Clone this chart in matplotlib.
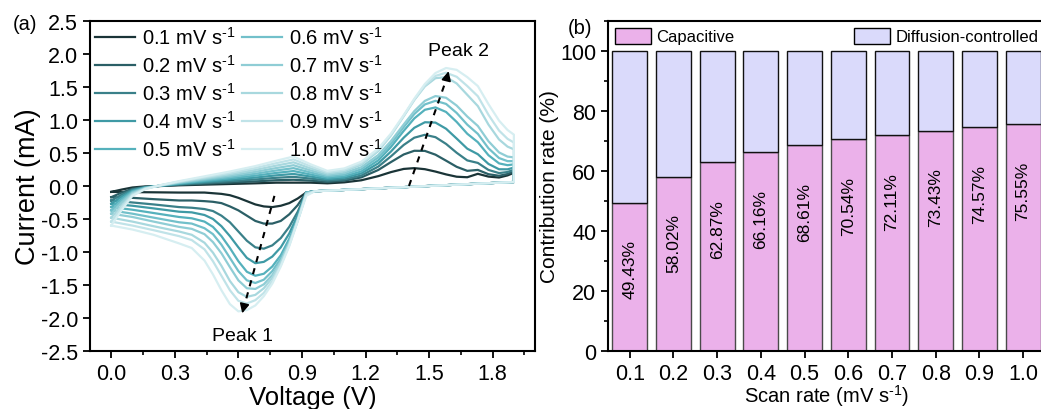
import matplotlib.pyplot as plt
from matplotlib.patches import Patch
from matplotlib.ticker import MultipleLocator, FormatStrFormatter

plt.rcParams['font.family'] = ['Liberation Sans', 'DejaVu Sans']
plt.rcParams['mathtext.fontset'] = 'custom'
plt.rcParams['mathtext.rm'] = 'Liberation Sans'
plt.rcParams['mathtext.it'] = 'Liberation Sans:italic'
plt.rcParams['mathtext.bf'] = 'Liberation Sans:bold'

# ---- (a) CV curves at different scan rates ----
scan_rates = ['0.1', '0.2', '0.3', '0.4', '0.5', '0.6', '0.7', '0.8', '0.9', '1.0']
cv_colors = ['#1a3437', '#2b5f66', '#3a8089', '#3f9aa5', '#55b1bc',
             '#72c0ca', '#8fcdd5', '#a8d8de', '#c0e3e8', '#d6eef1']

# anodic sweep, 0 -> 1.9 V
anodic_v = [0.00, 0.05, 0.10, 0.16, 0.24, 0.32, 0.44, 0.56, 0.68, 0.78, 0.86, 0.94, 1.02,
            1.10, 1.18, 1.26, 1.32, 1.38, 1.43, 1.48, 1.53, 1.58, 1.63, 1.68, 1.73, 1.78,
            1.83, 1.87, 1.90]
anodic_i = [
    [-0.09, -0.054, -0.023, -0.007, 0.0, 0.01, 0.02, 0.03, 0.04, 0.05, 0.05, 0.05, 0.04,
     0.055, 0.086, 0.149, 0.21, 0.258, 0.27, 0.254, 0.218, 0.175, 0.14, 0.132, 0.184, 0.142,
     0.128, 0.16, 0.20],
    [-0.17, -0.10, -0.043, -0.014, 0.002, 0.017, 0.034, 0.051, 0.069, 0.087, 0.094, 0.081, 0.061,
     0.08, 0.13, 0.242, 0.362, 0.477, 0.533, 0.531, 0.474, 0.383, 0.29, 0.229, 0.243, 0.178,
     0.154, 0.181, 0.22],
    [-0.22, -0.13, -0.055, -0.018, 0.004, 0.024, 0.048, 0.072, 0.098, 0.124, 0.138, 0.112, 0.082,
     0.10, 0.158, 0.293, 0.449, 0.621, 0.731, 0.775, 0.739, 0.637, 0.503, 0.387, 0.349, 0.243,
     0.195, 0.211, 0.246],
    [-0.27, -0.16, -0.068, -0.022, 0.006, 0.031, 0.062, 0.093, 0.127, 0.161, 0.182, 0.143, 0.103,
     0.123, 0.19, 0.342, 0.522, 0.731, 0.881, 0.965, 0.96, 0.867, 0.718, 0.565, 0.481, 0.334,
     0.253, 0.252, 0.278],
    [-0.32, -0.19, -0.08, -0.026, 0.008, 0.038, 0.076, 0.114, 0.156, 0.198, 0.226, 0.174, 0.124,
     0.146, 0.22, 0.388, 0.591, 0.834, 1.023, 1.154, 1.19, 1.121, 0.97, 0.791, 0.663, 0.466,
     0.342, 0.315, 0.327],
    [-0.37, -0.22, -0.093, -0.03, 0.01, 0.045, 0.09, 0.135, 0.185, 0.235, 0.27, 0.205, 0.145,
     0.171, 0.253, 0.432, 0.64, 0.891, 1.09, 1.235, 1.29, 1.243, 1.106, 0.929, 0.789, 0.571,
     0.423, 0.376, 0.376],
    [-0.42, -0.25, -0.105, -0.034, 0.012, 0.052, 0.104, 0.156, 0.214, 0.272, 0.314, 0.236, 0.166,
     0.196, 0.284, 0.469, 0.68, 0.931, 1.134, 1.289, 1.362, 1.336, 1.218, 1.052, 0.909, 0.678,
     0.508, 0.445, 0.433],
    [-0.48, -0.29, -0.12, -0.038, 0.014, 0.059, 0.118, 0.177, 0.243, 0.309, 0.358, 0.267, 0.187,
     0.222, 0.322, 0.528, 0.766, 1.057, 1.303, 1.509, 1.633, 1.648, 1.553, 1.381, 1.21, 0.93,
     0.704, 0.596, 0.555],
    [-0.54, -0.32, -0.135, -0.043, 0.016, 0.066, 0.132, 0.198, 0.272, 0.346, 0.402, 0.298, 0.208,
     0.243, 0.344, 0.546, 0.776, 1.06, 1.306, 1.522, 1.667, 1.715, 1.654, 1.514, 1.359, 1.079,
     0.839, 0.714, 0.658],
    [-0.60, -0.36, -0.15, -0.048, 0.018, 0.073, 0.146, 0.219, 0.301, 0.383, 0.446, 0.329, 0.229,
     0.266, 0.368, 0.567, 0.794, 1.073, 1.321, 1.545, 1.711, 1.787, 1.759, 1.649, 1.513, 1.24,
     0.99, 0.848, 0.777],
]

# cathodic sweep, 1.9 -> 0 V
cathodic_v = [1.90, 1.70, 1.50, 1.30, 1.10, 0.96, 0.92, 0.88, 0.84, 0.80, 0.76, 0.72, 0.68,
              0.64, 0.60, 0.56, 0.52, 0.48, 0.44, 0.38, 0.32, 0.20, 0.10, 0.00]
cathodic_i = [
    [0.06, 0.03, 0.00, -0.03, -0.06, -0.08, -0.10, -0.19, -0.26, -0.30, -0.32, -0.31, -0.28,
     -0.23, -0.18, -0.14, -0.12, -0.11, -0.10, -0.10, -0.10, -0.096, -0.093, -0.09],
    [0.06, 0.03, 0.00, -0.03, -0.06, -0.08, -0.10, -0.29, -0.43, -0.53, -0.57, -0.57, -0.53,
     -0.45, -0.37, -0.31, -0.26, -0.24, -0.23, -0.22, -0.22, -0.20, -0.18, -0.17],
    [0.06, 0.03, 0.00, -0.03, -0.06, -0.08, -0.10, -0.39, -0.62, -0.79, -0.90, -0.95, -0.93,
     -0.83, -0.69, -0.55, -0.45, -0.38, -0.35, -0.33, -0.32, -0.28, -0.25, -0.22],
    [0.06, 0.03, 0.00, -0.03, -0.06, -0.08, -0.10, -0.44, -0.72, -0.93, -1.07, -1.15, -1.17,
     -1.09, -0.93, -0.76, -0.61, -0.50, -0.44, -0.40, -0.39, -0.34, -0.30, -0.27],
    [0.06, 0.03, 0.00, -0.03, -0.06, -0.08, -0.10, -0.49, -0.80, -1.05, -1.22, -1.33, -1.36,
     -1.30, -1.14, -0.94, -0.76, -0.62, -0.54, -0.49, -0.47, -0.41, -0.36, -0.32],
    [0.06, 0.03, 0.00, -0.03, -0.06, -0.08, -0.10, -0.50, -0.84, -1.10, -1.29, -1.42, -1.47,
     -1.43, -1.29, -1.09, -0.89, -0.73, -0.64, -0.57, -0.55, -0.48, -0.42, -0.37],
    [0.06, 0.03, 0.00, -0.03, -0.06, -0.08, -0.11, -0.52, -0.87, -1.14, -1.35, -1.49, -1.56,
     -1.55, -1.43, -1.23, -1.02, -0.85, -0.73, -0.65, -0.62, -0.54, -0.47, -0.42],
    [0.06, 0.03, 0.00, -0.03, -0.06, -0.08, -0.12, -0.52, -0.87, -1.16, -1.39, -1.55, -1.65,
     -1.68, -1.61, -1.44, -1.21, -1.01, -0.86, -0.74, -0.69, -0.61, -0.54, -0.48],
    [0.06, 0.03, 0.00, -0.03, -0.06, -0.08, -0.13, -0.53, -0.90, -1.20, -1.44, -1.62, -1.73,
     -1.78, -1.74, -1.58, -1.36, -1.14, -0.96, -0.82, -0.76, -0.67, -0.60, -0.54],
    [0.06, 0.03, 0.00, -0.03, -0.06, -0.08, -0.15, -0.53, -0.91, -1.22, -1.48, -1.67, -1.81,
     -1.88, -1.90, -1.79, -1.58, -1.34, -1.13, -0.94, -0.87, -0.74, -0.66, -0.60],
]

# ---- (b) capacitive / diffusion contributions ----
rate_values = [0.1, 0.2, 0.3, 0.4, 0.5, 0.6, 0.7, 0.8, 0.9, 1.0]
capacitive = [49.43, 58.02, 62.87, 66.16, 68.61, 70.54, 72.11, 73.43, 74.57, 75.55]
diffusion = [100 - c for c in capacitive]

fig = plt.figure(figsize=(10.41, 4.10), dpi=100)

ax1 = fig.add_axes([0.0865, 0.1415, 0.4275, 0.805])
for i, rate in enumerate(scan_rates):
    ax1.plot(anodic_v + cathodic_v, anodic_i[i] + cathodic_i[i], color=cv_colors[i],
             lw=1.6, label=rate + r' mV s$^{\text{-}1}$')

ax1.set_xlim(-0.1, 2.0)
ax1.set_ylim(-2.5, 2.5)
ax1.xaxis.set_major_locator(MultipleLocator(0.3))
ax1.xaxis.set_minor_locator(MultipleLocator(0.15))
ax1.xaxis.set_major_formatter(FormatStrFormatter('%.1f'))
ax1.yaxis.set_major_locator(MultipleLocator(0.5))
ax1.yaxis.set_major_formatter(FormatStrFormatter('%.1f'))
ax1.tick_params(which='major', direction='out', length=5, width=1.3, labelsize=15.5)
ax1.tick_params(which='minor', direction='out', length=3, width=1.2)
for s in ax1.spines.values():
    s.set_linewidth(1.5)
ax1.set_xlabel('Voltage (V)', fontsize=18.5, labelpad=1)
ax1.set_ylabel('Current (mA)', fontsize=19.5, labelpad=0)

ax1.legend(loc='upper left', ncol=2, fontsize=14.5, frameon=False, handlelength=2.0,
           handletextpad=0.35, columnspacing=0.3, labelspacing=0.3, borderpad=0.15,
           borderaxespad=0.1)

# peak shift arrows
ax1.plot([0.77, 0.625], [-0.15, -1.85], ls=(0, (3, 3)), color='k', lw=1.5)
ax1.annotate('', xy=(0.615, -1.97), xytext=(0.628, -1.80),
             arrowprops=dict(arrowstyle='-|>', color='k', lw=1.2, mutation_scale=14))
ax1.plot([1.405, 1.585], [0.0, 1.65], ls=(0, (3, 3)), color='k', lw=1.5)
ax1.annotate('', xy=(1.595, 1.78), xytext=(1.582, 1.61),
             arrowprops=dict(arrowstyle='-|>', color='k', lw=1.2, mutation_scale=14))
ax1.text(0.62, -2.27, 'Peak 1', fontsize=14, ha='center', va='center')
ax1.text(1.64, 2.05, 'Peak 2', fontsize=14, ha='center', va='center')
fig.text(0.012, 0.94, '(a)', fontsize=14.5, ha='left', va='center')

ax2 = fig.add_axes([0.584, 0.1415, 0.4198, 0.805])
ax2.bar(rate_values, capacitive, width=0.08, color='#ebb1ea', edgecolor='#4a4a4a', lw=1.0)
ax2.bar(rate_values, diffusion, width=0.08, bottom=capacitive, color='#dadafb',
        edgecolor='#111111', lw=1.0)
for x, c in zip(rate_values, capacitive):
    ax2.text(x, c - 22, f'{c:.2f}%', rotation=90, ha='center', va='center', fontsize=12.5)

ax2.set_xlim(0.05, 1.05)
ax2.set_ylim(0, 110)
ax2.set_xticks(rate_values)
ax2.set_xticklabels([f'{r:.1f}' for r in rate_values])
ax2.yaxis.set_major_locator(MultipleLocator(20))
ax2.yaxis.set_minor_locator(MultipleLocator(10))
ax2.tick_params(which='major', direction='out', length=5, width=1.3, labelsize=15.5)
ax2.tick_params(which='minor', direction='out', length=3, width=1.2)
for s in ax2.spines.values():
    s.set_linewidth(1.5)
ax2.set_xlabel(r'Scan rate (mV s$^{\text{-}1}$)', fontsize=14.5, labelpad=-1)
ax2.set_ylabel('Contribution rate (%)', fontsize=15, labelpad=1)

leg_cap = ax2.legend(handles=[Patch(facecolor='#ebb1ea', edgecolor='k', lw=1.0)],
                     labels=['Capacitive'], loc='upper left', fontsize=12, frameon=False,
                     handlelength=2.2, handleheight=1.1, handletextpad=0.3,
                     borderpad=0.2, borderaxespad=0.2)
ax2.add_artist(leg_cap)
ax2.legend(handles=[Patch(facecolor='#dadafb', edgecolor='k', lw=1.0)],
           labels=['Diffusion-controlled'], loc='upper right', fontsize=12, frameon=False,
           handlelength=2.2, handleheight=1.1, handletextpad=0.3,
           borderpad=0.2, borderaxespad=0.2)
fig.text(0.545, 0.93, '(b)', fontsize=14.5, ha='left', va='center')

fig.savefig('out.png', dpi=100)
